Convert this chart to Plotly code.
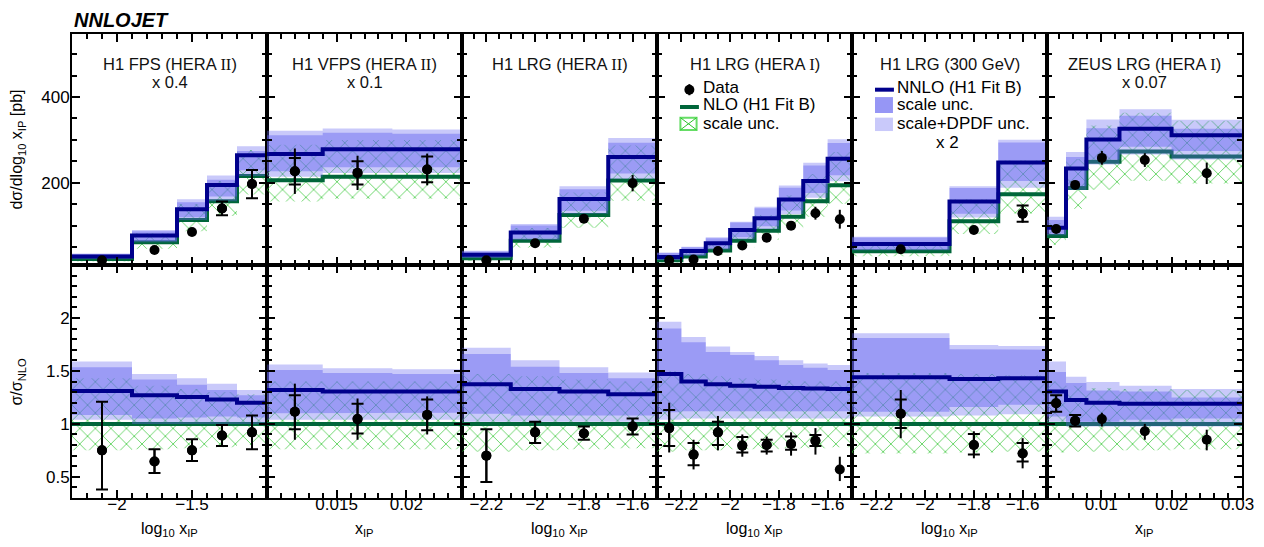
import plotly.graph_objects as go

FONT = "Liberation Sans, Arial, Helvetica, sans-serif"

# ---------------- Panel 1 : H1 FPS (HERA II), x 0.4 ----------------
fps_edges = [-2.3, -1.9, -1.6, -1.4, -1.2, -1.0]
fps_x = [-2.1, -1.75, -1.5, -1.3, -1.1]
fps_nnlo = [28, 77, 138, 195, 264]
fps_nlo = [22, 61, 113, 157, 216]
fps_data = [19, 43, 85, 140, 197]
fps_data_err = [8, 7, 9, 16, 33]
fps_data_cap = [None, None, None, 16, 33]
fps_r_nnlo = [1.31, 1.27, 1.255, 1.23, 1.20]
fps_r_sc_lo = [1.085, 1.05, 1.06, 1.07, 1.06]
fps_r_sc_hi = [1.535, 1.42, 1.37, 1.32, 1.27]
fps_r_tot_lo = [1.04, 1.0, 1.0, 1.0, 1.0]
fps_r_tot_hi = [1.59, 1.47, 1.43, 1.38, 1.32]
fps_r_nlo_lo = [0.75, 0.76, 0.77, 0.78, 0.80]
fps_r_nlo_hi = [1.43, 1.36, 1.33, 1.30, 1.28]
fps_r_data = [0.75, 0.645, 0.75, 0.89, 0.92]
fps_r_cap_lo = [0.38, 0.535, 0.65, 0.79, 0.76]
fps_r_cap_hi = [1.21, 0.76, 0.855, 0.99, 1.08]
fps_r_bar_lo = [0.38, 0.535, 0.65, 0.79, 0.76]
fps_r_bar_hi = [1.21, 0.76, 0.855, 0.99, 1.08]

# ---------------- Panel 2 : H1 VFPS (HERA II), x 0.1 ----------------
vfps_edges = [0.010, 0.014, 0.019, 0.024]
vfps_x = [0.012, 0.0165, 0.0215]
vfps_nnlo = [267, 278, 278]
vfps_nlo = [206, 214, 214]
vfps_data = [227, 223, 231]
vfps_data_err = [53, 40, 37]
vfps_data_cap = [31, 27, 30]
vfps_r_nnlo = [1.32, 1.305, 1.305]
vfps_r_sc_lo = [1.10, 1.105, 1.105]
vfps_r_sc_hi = [1.51, 1.48, 1.47]
vfps_r_tot_lo = [1.04, 1.04, 1.04]
vfps_r_tot_hi = [1.56, 1.525, 1.515]
vfps_r_nlo_lo = [0.76, 0.76, 0.76]
vfps_r_nlo_hi = [1.40, 1.40, 1.40]
vfps_r_data = [1.115, 1.045, 1.085]
vfps_r_cap_lo = [0.95, 0.91, 0.94]
vfps_r_cap_hi = [1.27, 1.19, 1.23]
vfps_r_bar_lo = [0.85, 0.85, 0.90]
vfps_r_bar_hi = [1.38, 1.24, 1.26]

# ---------------- Panel 3 : H1 LRG (HERA II) ----------------
lrg2_edges = [-2.3, -2.1, -1.9, -1.7, -1.5]
lrg2_x = [-2.2, -2.0, -1.8, -1.6]
lrg2_nnlo = [32, 84, 162, 260]
lrg2_nlo = [24, 65, 125, 205]
lrg2_data = [19, 59, 116, 199]
lrg2_data_err = [10, 7, 9, 19]
lrg2_data_cap = [None, None, None, None]
lrg2_r_nnlo = [1.375, 1.33, 1.305, 1.28]
lrg2_r_sc_lo = [1.095, 1.08, 1.08, 1.08]
lrg2_r_sc_hi = [1.66, 1.54, 1.48, 1.43]
lrg2_r_tot_lo = [1.02, 1.02, 1.02, 1.02]
lrg2_r_tot_hi = [1.72, 1.60, 1.535, 1.485]
lrg2_r_nlo_lo = [0.74, 0.75, 0.76, 0.77]
lrg2_r_nlo_hi = [1.47, 1.45, 1.42, 1.40]
lrg2_r_data = [0.70, 0.92, 0.91, 0.975]
lrg2_r_cap_lo = [0.45, 0.82, 0.85, 0.90]
lrg2_r_cap_hi = [0.95, 1.02, 0.975, 1.05]
lrg2_r_bar_lo = [0.45, 0.82, 0.85, 0.90]
lrg2_r_bar_hi = [0.95, 1.02, 0.975, 1.05]

# ---------------- Panel 4 : H1 LRG (HERA I) ----------------
lrg1_edges = [-2.3, -2.2, -2.1, -2.0, -1.9, -1.8, -1.7, -1.6, -1.5]
lrg1_x = [-2.25, -2.15, -2.05, -1.95, -1.85, -1.75, -1.65, -1.55]
lrg1_nnlo = [27, 41, 59, 90, 117, 161, 204, 256]
lrg1_nlo = [19, 28, 42, 65, 88, 121, 157, 194]
lrg1_data = [19, 21, 41, 53.5, 72, 100, 129, 115]
lrg1_data_err = [6, 5, 6, 8, 9, 10, 15, 22]
lrg1_data_cap = [None] * 8
lrg1_r_nnlo = [1.47, 1.40, 1.375, 1.36, 1.35, 1.34, 1.335, 1.33]
lrg1_r_sc_lo = [1.11, 1.12, 1.12, 1.12, 1.12, 1.12, 1.12, 1.12]
lrg1_r_sc_hi = [1.90, 1.77, 1.68, 1.65, 1.60, 1.555, 1.53, 1.51]
lrg1_r_tot_lo = [1.04, 1.05, 1.05, 1.05, 1.05, 1.05, 1.05, 1.05]
lrg1_r_tot_hi = [1.965, 1.82, 1.73, 1.68, 1.64, 1.60, 1.57, 1.555]
lrg1_r_nlo_lo = [0.74, 0.75, 0.75, 0.76, 0.76, 0.77, 0.77, 0.78]
lrg1_r_nlo_hi = [1.50, 1.47, 1.45, 1.43, 1.42, 1.41, 1.40, 1.40]
lrg1_r_data = [0.96, 0.71, 0.92, 0.795, 0.80, 0.81, 0.84, 0.57]
lrg1_r_cap_lo = [0.79, 0.61, 0.80, 0.73, 0.74, 0.755, 0.79, None]
lrg1_r_cap_hi = [1.13, 0.82, 1.02, 0.875, 0.85, 0.88, 0.895, None]
lrg1_r_bar_lo = [0.73, 0.57, 0.75, 0.69, 0.71, 0.70, 0.71, 0.46]
lrg1_r_bar_hi = [1.20, 0.85, 1.075, 0.90, 0.88, 0.92, 0.96, 0.69]

# ---------------- Panel 5 : H1 LRG (300 GeV), x 2 ----------------
lrg300_edges = [-2.3, -1.9, -1.7, -1.5]
lrg300_x = [-2.1, -1.8, -1.6]
lrg300_nnlo = [57, 156, 247]
lrg300_nlo = [40, 110, 173]
lrg300_data = [45, 90, 128]
lrg300_data_err = [6, 10, 21]
lrg300_data_cap = [None, None, 19]
lrg300_r_nnlo = [1.44, 1.425, 1.43]
lrg300_r_sc_lo = [1.115, 1.16, 1.18]
lrg300_r_sc_hi = [1.81, 1.705, 1.70]
lrg300_r_tot_lo = [1.07, 1.08, 1.09]
lrg300_r_tot_hi = [1.855, 1.745, 1.735]
lrg300_r_nlo_lo = [0.72, 0.73, 0.74]
lrg300_r_nlo_hi = [1.48, 1.47, 1.46]
lrg300_r_data = [1.095, 0.80, 0.72]
lrg300_r_cap_lo = [0.96, 0.71, 0.645]
lrg300_r_cap_hi = [1.23, 0.905, 0.82]
lrg300_r_bar_lo = [0.865, 0.675, 0.58]
lrg300_r_bar_hi = [1.32, 0.93, 0.865]

# ---------------- Panel 6 : ZEUS LRG (HERA I), x 0.07 ----------------
zeus_edges = [0.0023, 0.005, 0.0079, 0.0126, 0.02, 0.03]
zeus_x = [0.0036, 0.0063, 0.0101, 0.0162, 0.025]
zeus_nnlo = [95, 233, 301, 326, 311]
zeus_nlo = [76, 188, 249, 273, 261]
zeus_data = [92, 195, 258, 253, 222]
zeus_data_err = [6, 8, 16, 16, 25]
zeus_data_cap = [None] * 5
zeus_r_nnlo = [1.305, 1.225, 1.20, 1.19, 1.19]
zeus_r_sc_lo = [1.07, 1.02, 1.02, 1.04, 1.05]
zeus_r_sc_hi = [1.49, 1.385, 1.315, 1.305, 1.25]
zeus_r_tot_lo = [1.02, 0.975, 0.975, 0.975, 0.975]
zeus_r_tot_hi = [1.59, 1.445, 1.395, 1.36, 1.33]
zeus_r_nlo_lo = [0.73, 0.74, 0.74, 0.75, 0.76]
zeus_r_nlo_hi = [1.40, 1.36, 1.34, 1.33, 1.32]
zeus_r_data = [1.195, 1.03, 1.045, 0.93, 0.85]
zeus_r_cap_lo = [1.115, 0.975, None, None, None]
zeus_r_cap_hi = [1.27, 1.085, None, None, None]
zeus_r_bar_lo = [1.115, 0.975, 0.975, 0.85, 0.75]
zeus_r_bar_hi = [1.27, 1.085, 1.105, 1.0, 0.945]

# ---------------- Axis / label definitions ----------------
panel_titles = ["H1 FPS (HERA <span style='font-family:Liberation Serif'>II</span>)",
                "H1 VFPS (HERA <span style='font-family:Liberation Serif'>II</span>)",
                "H1 LRG (HERA <span style='font-family:Liberation Serif'>II</span>)",
                "H1 LRG (HERA <span style='font-family:Liberation Serif'>I</span>)",
                "H1 LRG (300 GeV)",
                "ZEUS LRG (HERA <span style='font-family:Liberation Serif'>I</span>)"]
panel_scales = ["x 0.4", "x 0.1", None, None, None, "x 0.07"]
x_titles = ["log<sub>10</sub> x<sub>IP</sub>", "x<sub>IP</sub>", "log<sub>10</sub> x<sub>IP</sub>",
            "log<sub>10</sub> x<sub>IP</sub>", "log<sub>10</sub> x<sub>IP</sub>", "x<sub>IP</sub>"]
x_ranges = [[-2.3, -1.0], [0.010, 0.024], [-2.3, -1.5], [-2.3, -1.5], [-2.3, -1.5], [0.0023, 0.03001]]
x_major = [[-2, -1.5], [0.015, 0.02], [-2.2, -2, -1.8, -1.6], [-2.2, -2, -1.8, -1.6],
           [-2.2, -2, -1.8, -1.6], [0.01, 0.02, 0.03]]
x_major_text = [["−2", "−1.5"], ["0.015", "0.02"], ["−2.2", "−2", "−1.8", "−1.6"],
                ["−2.2", "−2", "−1.8", "−1.6"], ["−2.2", "−2", "−1.8", "−1.6"],
                ["0.01", "0.02", ""]]
# the last ZEUS label sits on the figure edge: written as a label anchored at that tick
edge_tick = 0.03
edge_tick_text = "0.03"
x_minor = [0.1, 0.001, 0.05, 0.05, 0.05, 0.002]

top_range = [8, 547]
top_major = [200, 400]
top_minor = 50
rat_range = [0.3, 2.5]
rat_major = [0.5, 1, 1.5, 2]
rat_minor = 0.1
RATIO_REF = 1.0

panels = []
for pre in ["fps", "vfps", "lrg2", "lrg1", "lrg300", "zeus"]:
    g = globals()
    panels.append({k: g[f"{pre}_{k}"] for k in [
        "edges", "x", "nnlo", "nlo", "data", "data_err", "data_cap",
        "r_nnlo", "r_sc_lo", "r_sc_hi", "r_tot_lo", "r_tot_hi", "r_nlo_lo", "r_nlo_hi",
        "r_data", "r_cap_lo", "r_cap_hi", "r_bar_lo", "r_bar_hi"]})

# ---------------- Styles ----------------
C_NNLO = "#00008c"
C_NLO = "#00663a"
C_HATCH = "#2cc42c"
C_TOT = "rgba(100,100,240,0.35)"
C_SC = "rgba(100,100,240,0.45)"


def axid(prefix, n):
    return prefix if n == 1 else f"{prefix}{n}"


def step_xy(edges, vals):
    return list(edges), list(vals) + [vals[-1]]


def band_xy(edges, lo, hi):
    xs, ys = [], []
    for i in range(len(hi)):
        xs += [edges[i], edges[i + 1]]
        ys += [hi[i], hi[i]]
    for i in reversed(range(len(lo))):
        xs += [edges[i + 1], edges[i]]
        ys += [lo[i], lo[i]]
    xs.append(xs[0])
    ys.append(ys[0])
    return xs, ys


def scaled(base, rel):
    return [b * r for b, r in zip(base, rel)]


fig = go.Figure()

for i, p in enumerate(panels):
    for row in (0, 1):
        n = i + 1 + 6 * row
        xa, ya = axid("x", n), axid("y", n)
        nb = len(p["x"])
        if row == 0:
            nlo_c = p["nlo"]
            nnlo_c = p["nnlo"]
            # upper-panel bands = NLO prediction x relative band of the ratio panel
            nlo_lo, nlo_hi = scaled(p["nlo"], p["r_nlo_lo"]), scaled(p["nlo"], p["r_nlo_hi"])
            tot_lo, tot_hi = scaled(p["nlo"], p["r_tot_lo"]), scaled(p["nlo"], p["r_tot_hi"])
            sc_lo, sc_hi = scaled(p["nlo"], p["r_sc_lo"]), scaled(p["nlo"], p["r_sc_hi"])
        else:
            nlo_c = [RATIO_REF] * nb
            nnlo_c = p["r_nnlo"]
            nlo_lo, nlo_hi = p["r_nlo_lo"], p["r_nlo_hi"]
            tot_lo, tot_hi = p["r_tot_lo"], p["r_tot_hi"]
            sc_lo, sc_hi = p["r_sc_lo"], p["r_sc_hi"]

        bx, by = band_xy(p["edges"], nlo_lo, nlo_hi)
        fig.add_trace(go.Scatter(x=bx, y=by, xaxis=xa, yaxis=ya, mode="lines", line=dict(width=0),
                                 fill="toself", fillcolor="rgba(0,0,0,0)",
                                 fillpattern=dict(shape="x", fgcolor=C_HATCH, fgopacity=1,
                                                  bgcolor="rgba(0,0,0,0)", size=11, solidity=0.12),
                                 hoverinfo="skip"))
        sx, sy = step_xy(p["edges"], nlo_c)
        fig.add_trace(go.Scatter(x=sx, y=sy, xaxis=xa, yaxis=ya, mode="lines", line_shape="hv",
                                 line=dict(color=C_NLO, width=4), hoverinfo="skip"))
        bx, by = band_xy(p["edges"], tot_lo, tot_hi)
        fig.add_trace(go.Scatter(x=bx, y=by, xaxis=xa, yaxis=ya, mode="lines", line=dict(width=0),
                                 fill="toself", fillcolor=C_TOT, hoverinfo="skip"))
        bx, by = band_xy(p["edges"], sc_lo, sc_hi)
        fig.add_trace(go.Scatter(x=bx, y=by, xaxis=xa, yaxis=ya, mode="lines", line=dict(width=0),
                                 fill="toself", fillcolor=C_SC, hoverinfo="skip"))
        sx, sy = step_xy(p["edges"], nnlo_c)
        fig.add_trace(go.Scatter(x=sx, y=sy, xaxis=xa, yaxis=ya, mode="lines", line_shape="hv",
                                 line=dict(color=C_NNLO, width=4), hoverinfo="skip"))

        # data points
        if row == 0:
            yv = p["data"]
            fig.add_trace(go.Scatter(
                x=p["x"], y=yv, xaxis=xa, yaxis=ya, mode="markers",
                marker=dict(size=10, color="black"),
                error_y=dict(type="data", array=p["data_err"], width=0, thickness=2, color="black"),
                hoverinfo="skip"))
            cx = [xv for xv, c in zip(p["x"], p["data_cap"]) if c is not None]
            cy = [v for v, c in zip(yv, p["data_cap"]) if c is not None]
            ce = [c for c in p["data_cap"] if c is not None]
            if cx:
                fig.add_trace(go.Scatter(
                    x=cx, y=cy, xaxis=xa, yaxis=ya, mode="markers",
                    marker=dict(size=10, color="black"),
                    error_y=dict(type="data", array=ce, width=6, thickness=2, color="black"),
                    hoverinfo="skip"))
        else:
            yv = p["r_data"]
            fig.add_trace(go.Scatter(
                x=p["x"], y=yv, xaxis=xa, yaxis=ya, mode="markers",
                marker=dict(size=10, color="black"),
                error_y=dict(type="data", symmetric=False,
                             array=[h - v for h, v in zip(p["r_bar_hi"], yv)],
                             arrayminus=[v - l for l, v in zip(p["r_bar_lo"], yv)],
                             width=0, thickness=2, color="black"),
                hoverinfo="skip"))
            sel = [k for k in range(nb) if p["r_cap_hi"][k] is not None]
            if sel:
                fig.add_trace(go.Scatter(
                    x=[p["x"][k] for k in sel], y=[yv[k] for k in sel], xaxis=xa, yaxis=ya,
                    mode="markers", marker=dict(size=10, color="black"),
                    error_y=dict(type="data", symmetric=False,
                                 array=[p["r_cap_hi"][k] - yv[k] for k in sel],
                                 arrayminus=[yv[k] - p["r_cap_lo"][k] for k in sel],
                                 width=6, thickness=2, color="black"),
                    hoverinfo="skip"))

# ---------------- Layout ----------------
# The page body adds an 8 px margin, so the figure is 16 px smaller than the window.
ROW_SPLIT = 0.502
layout = dict(
    width=1248, height=531,
    margin=dict(l=64, r=14, t=26, b=41, pad=0),
    paper_bgcolor="white", plot_bgcolor="rgba(0,0,0,0)",
    showlegend=False,
    font=dict(family=FONT, size=17, color="black"),
)

tickfont = dict(family=FONT, size=17, color="black")
for i in range(6):
    for row in (0, 1):
        n = i + 1 + 6 * row
        xk = "xaxis" if n == 1 else f"xaxis{n}"
        yk = "yaxis" if n == 1 else f"yaxis{n}"
        layout[xk] = dict(
            domain=[i / 6, (i + 1) / 6], anchor=axid("y", n), range=x_ranges[i],
            tickmode="array", tickvals=x_major[i], ticktext=x_major_text[i],
            ticks="inside", ticklen=8, tickwidth=2,
            tickcolor="black", showticklabels=(row == 1), tickfont=tickfont,
            ticklabelstandoff=-10, ticklabeloverflow="allow",
            minor=dict(tickmode="linear", tick0=0, dtick=x_minor[i], ticks="inside", ticklen=5,
                       tickwidth=2, tickcolor="black", showgrid=False),
            showline=True, linewidth=2, linecolor="black", mirror="ticks",
            showgrid=False, zeroline=False, fixedrange=True)
        if row == 0:
            yr, ymaj, ymin = top_range, top_major, top_minor
            ydom = [ROW_SPLIT, 1]
        else:
            yr, ymaj, ymin = rat_range, rat_major, rat_minor
            ydom = [0, ROW_SPLIT]
        layout[yk] = dict(
            domain=ydom, anchor=axid("x", n), range=yr,
            tickmode="array", tickvals=ymaj, ticks="inside", ticklen=8, tickwidth=2,
            tickcolor="black", showticklabels=(i == 0), tickfont=tickfont,
            ticklabelstandoff=-3,
            minor=dict(tickmode="linear", tick0=0, dtick=ymin, ticks="inside", ticklen=5,
                       tickwidth=2, tickcolor="black", showgrid=False),
            showline=True, linewidth=2, linecolor="black", mirror="ticks",
            showgrid=False, zeroline=False, fixedrange=True)

TITLE_FONT = dict(family=FONT, size=16.5, color="#111")
ann = []
ann.append(dict(text="<b><i>NNLOJET</i></b>", xref="paper", yref="paper", x=0, y=1,
                xanchor="left", yanchor="bottom", yshift=1, showarrow=False,
                font=dict(family=FONT, size=20, color="black")))
for i in range(6):
    n = i + 1
    ann.append(dict(text=panel_titles[i], xref=f"{axid('x', n)} domain", yref=f"{axid('y', n)} domain",
                    x=0.5, y=0.869, xanchor="center", yanchor="middle", showarrow=False,
                    font=TITLE_FONT))
    if panel_scales[i]:
        ann.append(dict(text=panel_scales[i], xref=f"{axid('x', n)} domain",
                        yref=f"{axid('y', n)} domain", x=0.5, y=0.791, xanchor="center",
                        yanchor="middle", showarrow=False, font=TITLE_FONT))
    ann.append(dict(text=x_titles[i], xref=f"x{7 + i} domain", yref="paper", x=0.5, y=0,
                    xanchor="center", yanchor="top", yshift=-20, showarrow=False,
                    font=dict(family=FONT, size=16, color="black")))
# edge tick label of the ZEUS panel, nudged inward so it is not clipped by the page edge
ann.append(dict(text=edge_tick_text, xref="x12", yref="paper", x=edge_tick, y=0,
                xanchor="center", yanchor="middle", xshift=-4, yshift=-6, showarrow=False,
                font=tickfont))
ann.append(dict(text="dσ/dlog<sub>10</sub> x<sub>IP</sub> [pb]", xref="paper", yref="paper",
                x=0, y=(1 + ROW_SPLIT) / 2, xshift=-54, xanchor="center", yanchor="middle",
                textangle=-90, showarrow=False, font=dict(family=FONT, size=16, color="black")))
ann.append(dict(text="σ/σ<sub>NLO</sub>", xref="paper", yref="paper",
                x=0, y=ROW_SPLIT / 2, xshift=-54, xanchor="center", yanchor="middle",
                textangle=-90, showarrow=False, font=dict(family=FONT, size=16, color="black")))

# legend (panel 4 top and panel 5 top)
LEG_FONT = dict(family=FONT, size=17, color="black")
leg4 = [("Data", 0.769), ("NLO (H1 Fit B)", 0.695), ("scale unc.", 0.613)]
leg5 = [("NNLO (H1 Fit B)", 0.769), ("scale unc.", 0.695), ("scale+DPDF unc.", 0.613)]
for txt, yy in leg4:
    ann.append(dict(text=txt, xref="x4 domain", yref="y4 domain", x=0.225, y=yy,
                    xanchor="left", yanchor="middle", showarrow=False, font=LEG_FONT))
for txt, yy in leg5:
    ann.append(dict(text=txt, xref="x5 domain", yref="y5 domain", x=0.218, y=yy,
                    xanchor="left", yanchor="middle", showarrow=False, font=LEG_FONT))
ann.append(dict(text="x 2", xref="x5 domain", yref="y5 domain", x=0.49, y=0.531,
                xanchor="center", yanchor="middle", showarrow=False, font=LEG_FONT))

shapes = []
# Data marker
shapes.append(dict(type="circle", xref="x4 domain", yref="y4 domain", xsizemode="pixel",
                   ysizemode="pixel", xanchor=0.166, yanchor=0.759, x0=-5, x1=5, y0=-5, y1=5,
                   fillcolor="black", line=dict(width=0)))
shapes.append(dict(type="line", xref="x4 domain", yref="y4 domain", x0=0.166, x1=0.166,
                   y0=0.735, y1=0.783, line=dict(color="black", width=2)))
# NLO line
shapes.append(dict(type="line", xref="x4 domain", yref="y4 domain", x0=0.118, x1=0.215,
                   y0=0.684, y1=0.684, line=dict(color=C_NLO, width=4)))
# hatched box
shapes.append(dict(type="rect", xref="x4 domain", yref="y4 domain", x0=0.12, x1=0.203,
                   y0=0.585, y1=0.638, line=dict(color="#66dd66", width=2)))
shapes.append(dict(type="line", xref="x4 domain", yref="y4 domain", x0=0.12, x1=0.203,
                   y0=0.585, y1=0.638, line=dict(color=C_HATCH, width=1)))
shapes.append(dict(type="line", xref="x4 domain", yref="y4 domain", x0=0.12, x1=0.203,
                   y0=0.638, y1=0.585, line=dict(color=C_HATCH, width=1)))
# NNLO line
shapes.append(dict(type="line", xref="x5 domain", yref="y5 domain", x0=0.118, x1=0.215,
                   y0=0.759, y1=0.759, line=dict(color=C_NNLO, width=4)))
shapes.append(dict(type="rect", xref="x5 domain", yref="y5 domain", x0=0.118, x1=0.21,
                   y0=0.658, y1=0.727, fillcolor="rgba(150,150,245,1)", line=dict(width=0)))
shapes.append(dict(type="rect", xref="x5 domain", yref="y5 domain", x0=0.118, x1=0.21,
                   y0=0.58, y1=0.638, fillcolor="rgba(201,201,250,1)", line=dict(width=0)))

layout["annotations"] = ann
layout["shapes"] = shapes
fig.update_layout(**layout)
fig.write_html("out.html")
